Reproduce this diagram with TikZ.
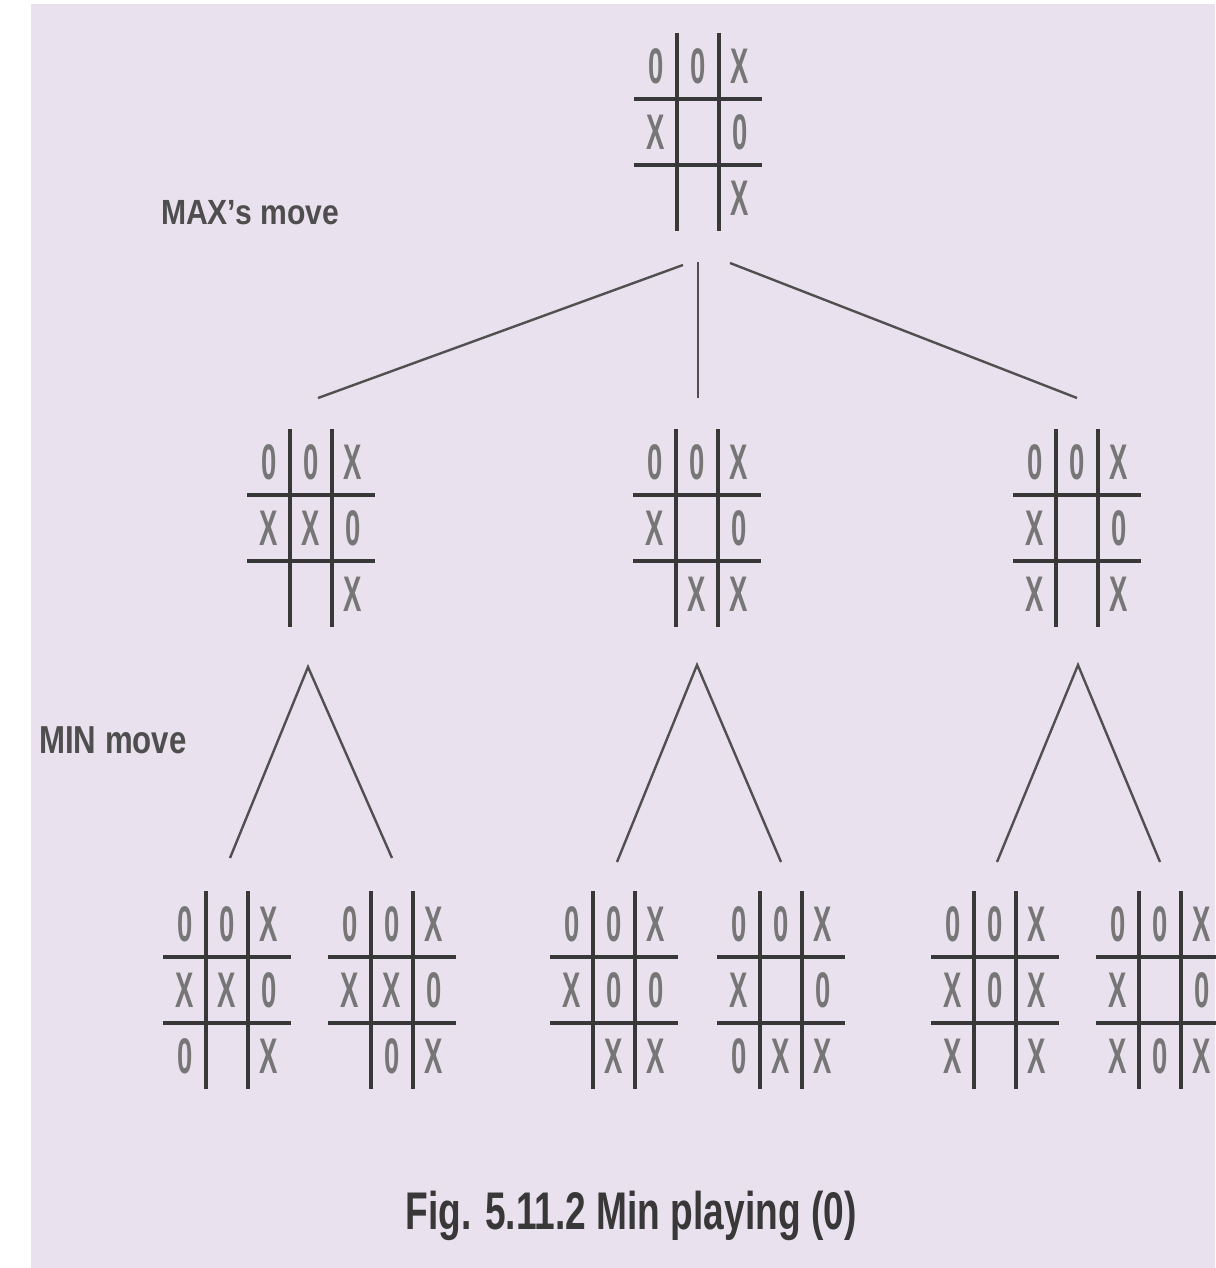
\documentclass[tikz,border=0pt]{standalone}
\usepackage{fontspec}
\setmainfont{Liberation Sans}
\usepackage{graphicx}
\definecolor{bg}{HTML}{EAE1EE}
\definecolor{ink}{HTML}{383838}
\definecolor{glyph}{HTML}{767676}
\definecolor{edgecol}{HTML}{505050}
\definecolor{txt}{HTML}{4E4E4E}
\tikzset{
  gridline/.style={draw=ink, line width=3.2pt},
  cellmark/.style={text=glyph, font=\fontsize{50}{50}\selectfont\bfseries, inner sep=0pt},
  treeedge/.style={draw=edgecol, line width=2.4pt},
  lvl/.style={text=txt, inner sep=0pt},
  boardbox/.style={minimum width=128pt, minimum height=198pt, inner sep=0pt}
}
\newcommand\tboard[4]{%
  \begin{scope}[shift={(#2,#3)}]
    \node[boardbox] (#1) at (0,0) {};
    \draw[gridline] (-21,-99) -- (-21,99);
    \draw[gridline] (21,-99) -- (21,99);
    \draw[gridline] (-64,-33) -- (64,-33);
    \draw[gridline] (-64,33) -- (64,33);
    \foreach \s [count=\k from 0] in {#4} {
      \pgfmathtruncatemacro\bc{mod(\k,3)}
      \pgfmathtruncatemacro\br{div(\k,3)}
      \node[cellmark] (#1-\k) at ({(\bc-1)*42},{(\br-1)*66}) {\scalebox{0.55}[1]{\s}};
    }
  \end{scope}}
\begin{document}
\begin{tikzpicture}[x=1pt,y=-1pt]
  \useasboundingbox (0,0) rectangle (1215,1268);
  \fill[white] (0,0) rectangle (1215,1268);
  \fill[bg] (31,4) rectangle (1215,1268);

  % boards
  \tboard{top}{698}{132}{0,0,X,X,{},0,{},{},X}
  \tboard{ma}{311}{528}{0,0,X,X,X,0,{},{},X}
  \tboard{mb}{697}{528}{0,0,X,X,{},0,{},X,X}
  \tboard{mc}{1077}{528}{0,0,X,X,{},0,X,{},X}
  \tboard{la}{227}{990}{0,0,X,X,X,0,0,{},X}
  \tboard{lb}{392}{990}{0,0,X,X,X,0,{},0,X}
  \tboard{lc}{614}{990}{0,0,X,X,0,0,{},X,X}
  \tboard{ld}{781}{990}{0,0,X,X,{},0,0,X,X}
  \tboard{le}{995}{990}{0,0,X,X,0,X,X,{},X}
  \tboard{lf}{1160}{990}{0,0,X,X,{},0,X,0,X}

  % connector end points
  \coordinate (t1) at (683,265);
  \coordinate (t2) at (698,262);
  \coordinate (t3) at (730,263);
  \coordinate (a1) at (318,398);
  \coordinate (a2) at (698,398);
  \coordinate (a3) at (1077,398);
  \coordinate (pa) at (308,667);
  \coordinate (pb) at (697,665);
  \coordinate (pc) at (1078,665);
  \coordinate (ca) at (230,858);
  \coordinate (cb) at (392,858);
  \coordinate (cc) at (617,862);
  \coordinate (cd) at (781,862);
  \coordinate (ce) at (997,862);
  \coordinate (cf) at (1160,862);

  \draw[treeedge] (t1) -- (a1);
  \draw[treeedge] (t2) -- (a2);
  \draw[treeedge] (t3) -- (a3);
  \draw[treeedge] (ca) -- (pa) -- (cb);
  \draw[treeedge] (cc) -- (pb) -- (cd);
  \draw[treeedge] (ce) -- (pc) -- (cf);

  % labels
  \node[lvl, font=\fontsize{35}{35}\selectfont\bfseries] (maxlbl) at (250,213) {\scalebox{0.86}[1]{MAX's move}};
  \node[lvl, font=\fontsize{39}{39}\selectfont\bfseries] (minlbl) at (113,740) {\scalebox{0.8}[1]{MIN move}};
  \node[lvl, text=ink, font=\fontsize{53}{53}\selectfont\bfseries] (caption) at (631,1216) {\scalebox{0.7}[1]{Fig. 5.11.2 Min playing (0)}};
\end{tikzpicture}
\end{document}
